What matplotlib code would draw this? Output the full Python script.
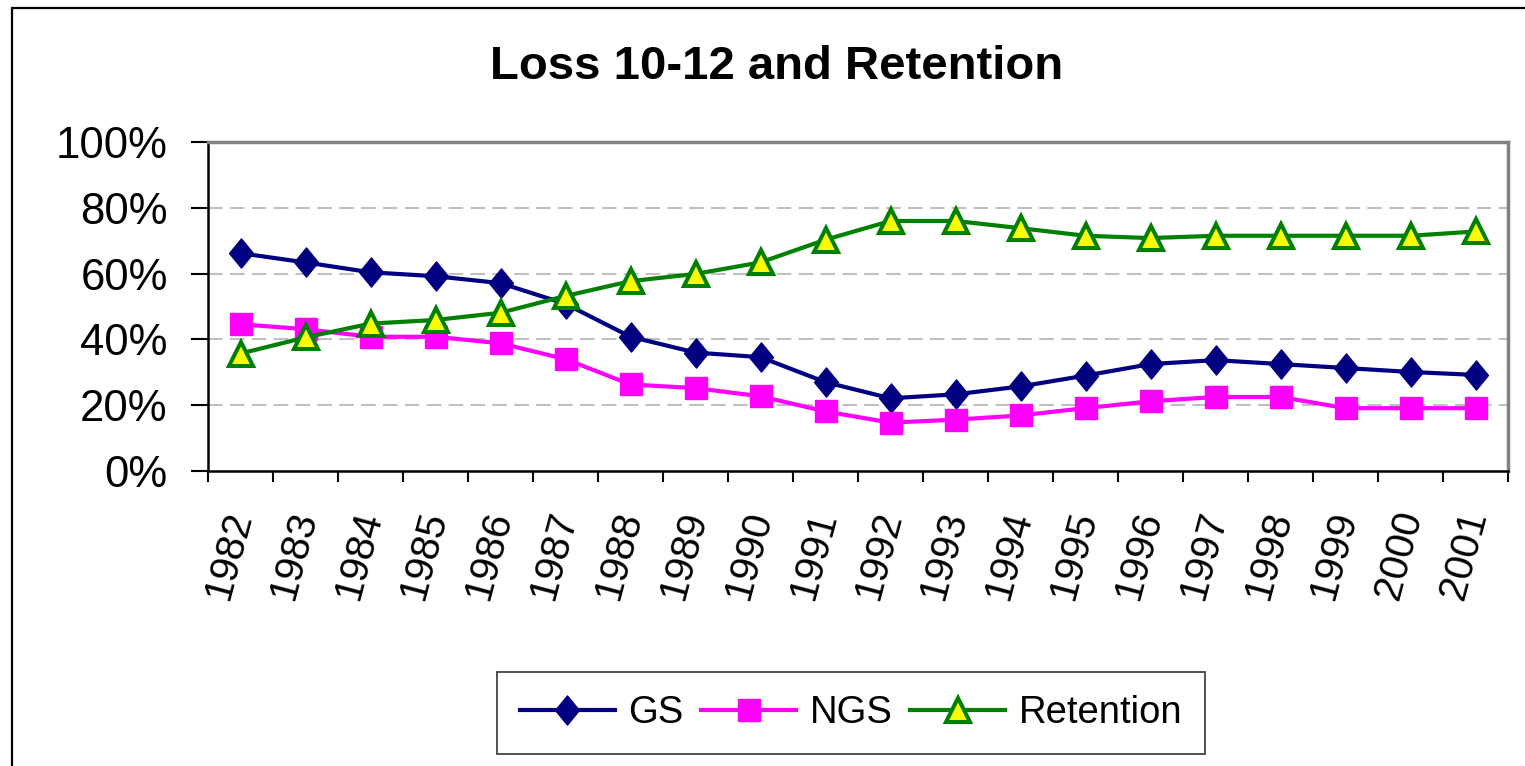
import matplotlib
matplotlib.use("Agg")
import matplotlib.pyplot as plt
from matplotlib.ticker import FuncFormatter, FixedLocator
from matplotlib.patches import Rectangle
from matplotlib.path import Path

years = ["1982", "1983", "1984", "1985", "1986", "1987", "1988", "1989", "1990", "1991",
         "1992", "1993", "1994", "1995", "1996", "1997", "1998", "1999", "2000", "2001"]
gs = [66.2, 63.4, 60.4, 59.2, 57.1, 50.8, 40.8, 36.0, 34.6, 27.0,
      22.1, 23.3, 25.7, 29.0, 32.5, 33.7, 32.5, 31.3, 30.1, 29.2]
ngs = [44.6, 43.1, 40.8, 40.8, 38.8, 34.0, 26.3, 25.2, 22.7, 18.1,
       14.7, 15.6, 16.9, 19.1, 21.2, 22.5, 22.5, 19.1, 19.1, 19.1]
retention = [35.7, 40.6, 44.8, 45.9, 48.1, 53.2, 57.7, 59.9, 63.4, 70.3,
             76.0, 76.0, 73.8, 71.5, 70.8, 71.5, 71.5, 71.5, 71.5, 72.8]
yticks = [0, 20, 40, 60, 80, 100]
title = "Loss 10-12 and Retention"

plt.rcParams['font.family'] = ['Liberation Sans', 'DejaVu Sans']

W, H = 1525, 766
fig = plt.figure(figsize=(W / 100, H / 100), dpi=100)

# outer chart border (left/top visible, others cut off)
fig.add_artist(Rectangle((12 / W, -0.05), 1.2, 1 - 8 / H + 0.05, transform=fig.transFigure,
                         fill=False, edgecolor='black', linewidth=1.6))

L, R, T, B = 208, 1508, 142, 471
ax = fig.add_axes([L / W, 1 - B / H, (R - L) / W, (B - T) / H])

diamond = Path([(0, 1), (0.82, 0), (0, -1), (-0.82, 0), (0, 1)],
               [Path.MOVETO, Path.LINETO, Path.LINETO, Path.LINETO, Path.CLOSEPOLY])

x = list(range(len(years)))
ax.plot(x, gs, color='#000080', linewidth=3.0, marker=diamond, markersize=21,
        markerfacecolor='#000080', markeredgecolor='#000080', label='GS', zorder=3)
ax.plot(x, ngs, color='#FF00FF', linewidth=3.0, marker='s', markersize=15.5,
        markerfacecolor='#FF00FF', markeredgecolor='#FF00FF', label='NGS', zorder=3)
ax.plot(x, retention, color='#008000', linewidth=3.0, marker='^', markersize=17,
        markerfacecolor='#FFFF00', markeredgecolor='#008000', markeredgewidth=2.9,
        label='Retention', zorder=4)

ax.set_xlim(-0.5, len(years) - 0.5)
ax.set_ylim(0, 100)

ax.yaxis.set_major_locator(FixedLocator(yticks))
ax.yaxis.set_major_formatter(FuncFormatter(lambda v, p: f"{int(v)}%"))
ax.tick_params(axis='y', direction='out', length=12, width=1.5, labelsize=31.5, pad=17)

ax.set_xticks(x)
ax.set_xticklabels(years, rotation=75, ha='right', va='center', rotation_mode='anchor')
ax.set_xticks([i - 0.5 for i in range(len(years) + 1)], minor=True)
ax.tick_params(axis='x', which='major', length=0, labelsize=29, pad=29)
ax.tick_params(axis='x', which='minor', direction='out', length=8, width=1.5)

for v in yticks[1:-1]:
    ax.axhline(v, color='#C0C0C0', linewidth=1.5, linestyle=(0, (7, 3.5)), zorder=1)

for side in ['left', 'bottom']:
    ax.spines[side].set_color('black')
    ax.spines[side].set_linewidth(1.8)
for side in ['top', 'right']:
    ax.spines[side].set_color('#808080')
    ax.spines[side].set_linewidth(2.5)

fig.text(777 / W, 1 - 67 / H, title, ha='center', va='center', fontsize=34, fontweight='bold')

leg = fig.legend(loc='center', bbox_to_anchor=(851 / W, 1 - 713 / H), ncol=3, fontsize=27.5,
                 frameon=True, fancybox=False, edgecolor='black', handlelength=2.5,
                 handletextpad=0.35, columnspacing=0.45, borderpad=0.6)
leg.get_frame().set_linewidth(1.2)

fig.savefig('out.png', dpi=100)
